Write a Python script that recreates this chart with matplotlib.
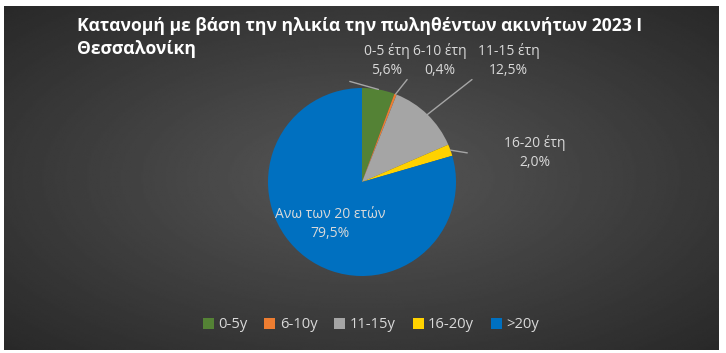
import numpy as np
import matplotlib
matplotlib.use('Agg')
import matplotlib.pyplot as plt

plt.rcParams['font.family'] = ['Open Sans', 'DejaVu Sans']

# data
categories = ['0-5y', '6-10y', '11-15y', '16-20y', '>20y']
label_names = ['0-5 έτη', '6-10 έτη', '11-15 έτη', '16-20 έτη', 'Ανω των 20 ετών']
shares = [5.6, 0.4, 12.5, 2.0, 79.5]
colors = ['#548235', '#ED7D31', '#A5A5A5', '#FFD200', '#0070C0']
title_lines = ['Κατανομή με βάση την ηλικία την πωληθέντων ακινήτων 2023 Ι', 'Θεσσαλονίκη']

W, H = 726, 353
fig = plt.figure(figsize=(W / 100, H / 100), dpi=100, facecolor='white')

# dark radial gradient background
bg = fig.add_axes([4 / W, 1 - 350 / H, 714 / W, 344 / H])
gx, gy = np.meshgrid(np.linspace(-1, 1, 400), np.linspace(-1, 1, 200))
dist = np.sqrt(gx ** 2 + gy ** 2) / np.sqrt(2)
bg.imshow(0.34 - 0.18 * dist, cmap='gray', vmin=0, vmax=1, aspect='auto',
          interpolation='bilinear')
bg.axis('off')

# pie axes: center (362,182) px, radius 94 px
cx, cy, r = 362, 182, 94
ax = fig.add_axes([(cx - r) / W, 1 - (cy + r) / H, 2 * r / W, 2 * r / H])
wedges, _ = ax.pie(shares, colors=colors, startangle=90, counterclock=False,
                   wedgeprops=dict(linewidth=0))
ax.set_xlim(-1, 1)
ax.set_ylim(-1, 1)
ax.set_aspect('auto')

txt_col = '#D9D9D9'
line_col = '#A6A6A6'

def fmt(v):
    return ('%.1f%%' % v).replace('.', ',')

label_pos = [(0.26, 1.29), (0.83, 1.29), (1.56, 1.29), (1.84, 0.31), (-0.34, -0.45)]
line_end = [(-0.13, 1.07), (0.48, 1.09), (1.17, 1.09), (1.12, 0.31), None]

for i, w in enumerate(wedges):
    ang = np.deg2rad((w.theta1 + w.theta2) / 2)
    ex, ey = np.cos(ang), np.sin(ang)
    lx, ly = label_pos[i]
    ax.text(lx, ly, label_names[i] + '\n' + fmt(shares[i]), ha='center', va='center',
            color=txt_col, fontsize=10, linespacing=1.35, clip_on=False)
    if line_end[i] is not None:
        ax.annotate('', xy=(ex, ey), xytext=line_end[i],
                    arrowprops=dict(arrowstyle='-', color=line_col, lw=1,
                                    shrinkA=0, shrinkB=0),
                    annotation_clip=False)

# title, one text per line
for k, t in enumerate(title_lines):
    fig.text(77 / W, 1 - (26 + 23 * k) / H, t, ha='left', va='center', color='white',
             fontsize=12.6, fontweight='bold')

fig.legend(wedges, categories, loc='center', bbox_to_anchor=(371 / W, 1 - 325 / H),
           ncol=5, frameon=False, fontsize=10.6, labelcolor=txt_col,
           handlelength=0.75, handleheight=0.75, handletextpad=0.3,
           columnspacing=1.15)

fig.savefig('out.png', dpi=100, facecolor='white')
